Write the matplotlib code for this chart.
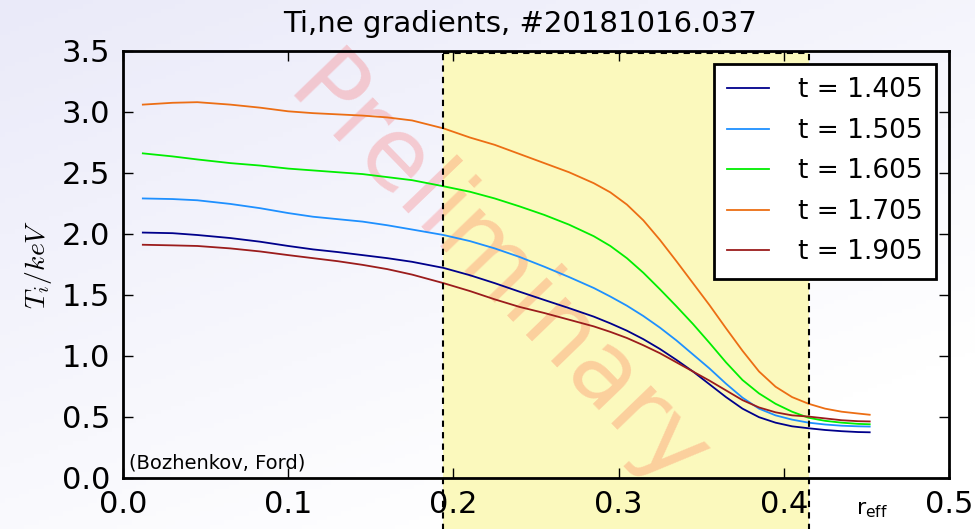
import numpy as np
import matplotlib
matplotlib.use("Agg")
import matplotlib.pyplot as plt
from matplotlib.patches import Rectangle

# effective radius grid and Ti profiles (keV) for each time slice
r_eff = [0.012, 0.03, 0.045, 0.065, 0.083, 0.1, 0.115, 0.13, 0.145, 0.16, 0.175,
         0.194, 0.21, 0.225, 0.24, 0.255, 0.27, 0.285, 0.295, 0.305, 0.315, 0.325,
         0.335, 0.345, 0.355, 0.365, 0.375, 0.385, 0.395, 0.405, 0.415, 0.425,
         0.435, 0.445, 0.452]
ti_1405 = [2.01, 2.005, 1.99, 1.965, 1.935, 1.90, 1.872, 1.85, 1.825, 1.80, 1.77,
           1.72, 1.66, 1.595, 1.525, 1.457, 1.39, 1.32, 1.265, 1.205, 1.135, 1.055,
           0.965, 0.87, 0.765, 0.66, 0.565, 0.495, 0.45, 0.42, 0.404, 0.39,
           0.38, 0.373, 0.371]
ti_1505 = [2.29, 2.285, 2.275, 2.245, 2.21, 2.17, 2.14, 2.12, 2.10, 2.07, 2.035,
           1.99, 1.94, 1.88, 1.81, 1.73, 1.645, 1.555, 1.485, 1.41, 1.325, 1.23,
           1.125, 1.01, 0.895, 0.77, 0.655, 0.565, 0.51, 0.475, 0.45, 0.435,
           0.425, 0.42, 0.418]
ti_1605 = [2.66, 2.635, 2.61, 2.58, 2.56, 2.535, 2.52, 2.505, 2.49, 2.465, 2.44,
           2.39, 2.345, 2.29, 2.225, 2.155, 2.075, 1.98, 1.90, 1.80, 1.68, 1.545,
           1.405, 1.26, 1.105, 0.945, 0.80, 0.69, 0.605, 0.54, 0.49, 0.465,
           0.45, 0.44, 0.437]
ti_1705 = [3.06, 3.075, 3.08, 3.06, 3.035, 3.005, 2.99, 2.98, 2.97, 2.955, 2.93,
           2.865, 2.79, 2.73, 2.655, 2.58, 2.505, 2.415, 2.34, 2.24, 2.11, 1.95,
           1.775, 1.595, 1.415, 1.225, 1.04, 0.87, 0.745, 0.66, 0.605, 0.565,
           0.54, 0.525, 0.515]
ti_1905 = [1.91, 1.905, 1.90, 1.88, 1.855, 1.825, 1.80, 1.775, 1.745, 1.71, 1.665,
           1.595, 1.53, 1.462, 1.40, 1.35, 1.295, 1.24, 1.195, 1.145, 1.085, 1.02,
           0.945, 0.87, 0.795, 0.715, 0.635, 0.575, 0.535, 0.51, 0.50, 0.485,
           0.47, 0.462, 0.46]

labels = ["t = 1.405", "t = 1.505", "t = 1.605", "t = 1.705", "t = 1.905"]
colors = ["#00008b", "#1e90ff", "#00ee00", "#ec6e14", "#9b1c1c"]

# gradient region
grad_lo, grad_hi = 0.194, 0.415

fig = plt.figure(figsize=(9.75, 5.29), dpi=100)

# slide background gradient
bg = fig.add_axes([0, 0, 1, 1], zorder=-10)
xx, yy = np.meshgrid(np.linspace(0, 1, 200), np.linspace(0, 1, 120))
t = np.clip((xx * 0.6 + yy * 0.9) / 1.2, 0, 1)
top = np.array([234, 234, 249]) / 255.0
bot = np.array([255, 255, 255]) / 255.0
img = top[None, None, :] * (1 - t[..., None]) + bot[None, None, :] * t[..., None]
bg.imshow(img, aspect="auto", extent=[0, 1, 0, 1])
bg.axis("off")

ax = fig.add_axes([123 / 975, 1 - 477.5 / 529, 826 / 975, 426.5 / 529])
ax.set_facecolor("none")

# yellow band with dashed outline, running past the bottom of the axes
trans = ax.get_xaxis_transform()
ax.add_patch(Rectangle((grad_lo, -0.13), grad_hi - grad_lo, 1.125, transform=trans,
                       facecolor="#fbf9bd", edgecolor="none", clip_on=False, zorder=0.5))
for xv in (grad_lo, grad_hi):
    ax.plot([xv, xv], [-0.13, 0.995], transform=trans, color="black", lw=1.5,
            ls=(0, (3, 2.5)), clip_on=False, zorder=3)
ax.plot([grad_lo, grad_hi], [0.995, 0.995], transform=trans, color="black", lw=1.5,
        ls=(0, (3, 2.5)), clip_on=False, zorder=3)

series = [ti_1405, ti_1505, ti_1605, ti_1705, ti_1905]
for y, c, lab in zip(series, colors, labels):
    ax.plot(r_eff, y, color=c, lw=1.3, label=lab, zorder=2)

# watermark
ax.text(0.226, 1.66, "Preliminary", fontsize=71, color="red", alpha=0.17,
        rotation=-46, ha="center", va="center", zorder=1)

ax.set_xlim(0, 0.5)
ax.set_ylim(0, 3.5)
ax.set_xticks([0.0, 0.1, 0.2, 0.3, 0.4, 0.5])
ax.set_yticks(np.arange(0, 3.51, 0.5))
ax.xaxis.set_major_formatter(matplotlib.ticker.FormatStrFormatter("%.1f"))
ax.yaxis.set_major_formatter(matplotlib.ticker.FormatStrFormatter("%.1f"))
ax.tick_params(direction="in", length=7, width=1, labelsize=22, pad=9,
               top=True, right=True)
for s in ax.spines.values():
    s.set_linewidth(2)
    s.set_zorder(4)

ax.set_ylabel("$T_i/keV$", fontsize=20, math_fontfamily="cm", labelpad=6)

leg = ax.legend(loc="upper right", fontsize=19, fancybox=False, framealpha=1,
                edgecolor="black", handlelength=1.6, handletextpad=1.1,
                labelspacing=0.55, borderpad=0.5)
leg.get_frame().set_linewidth(2)
leg.set_zorder(5)

ax.text(0.007, 0.035, "(Bozhenkov, Ford)", transform=ax.transAxes, fontsize=14,
        va="center", ha="left")

fig.text(520 / 975, 1 - 24 / 529, "Ti,ne gradients, #20181016.037", fontsize=21,
         ha="center", va="center")
fig.text(872 / 975, 1 - 510 / 529, r"r$_{\mathrm{eff}}$", fontsize=16,
         ha="center", va="center")

fig.savefig("out.png", dpi=100)
